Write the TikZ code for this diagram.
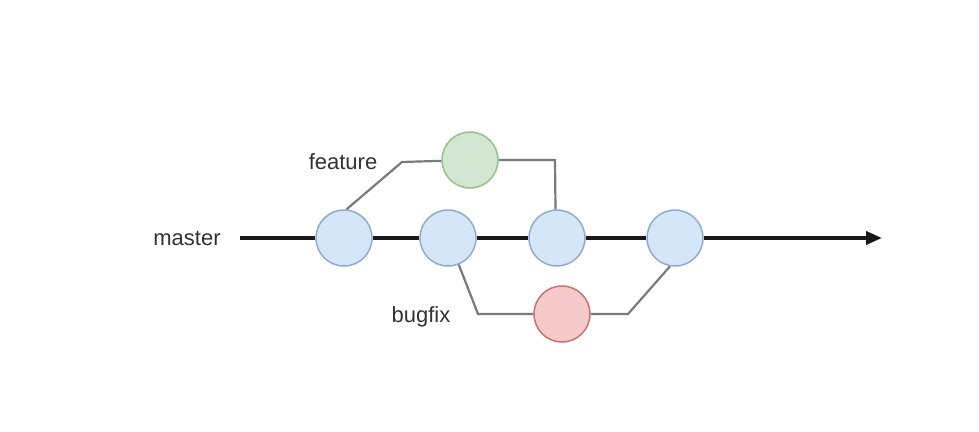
\documentclass[tikz,border=0pt]{standalone}
\usepackage{fontspec}
\setmainfont{Liberation Sans}
\usetikzlibrary{arrows.meta}
\definecolor{bfill}{HTML}{D6E6F9}
\definecolor{bdraw}{HTML}{8EACD0}
\definecolor{gfill}{HTML}{D2E6D1}
\definecolor{gdraw}{HTML}{97C284}
\definecolor{rfill}{HTML}{F6CACA}
\definecolor{rdraw}{HTML}{C77471}
\definecolor{branch}{HTML}{7A7A7A}
\tikzset{
  commit/.style={circle, minimum size=56pt, inner sep=0pt, line width=1.5pt},
  mcommit/.style={commit, fill=bfill, draw=bdraw},
  fcommit/.style={commit, fill=gfill, draw=gdraw},
  bcommit/.style={commit, fill=rfill, draw=rdraw},
  lbl/.style={font=\fontsize{22}{24}\selectfont, text=black!80},
  mline/.style={line width=3.6pt, black!90},
  bline/.style={line width=2.2pt, branch}
}
\begin{document}
\begin{tikzpicture}[x=1pt,y=-1pt]
\useasboundingbox (0,0) rectangle (979,431);
\fill[white] (0,0) rectangle (979,431);
\node[lbl] (master) at (187,238) {master};
\node[lbl] (feature) at (343,162) {feature};
\node[lbl] (bugfix) at (421,317) {bugfix};
\coordinate (start) at (240,238);
\coordinate (end) at (882,238);
\node[mcommit] (c1) at (344,238) {};
\node[mcommit] (c2) at (448,238) {};
\node[mcommit] (c3) at (557,238) {};
\node[mcommit] (c4) at (675,238) {};
\node[fcommit] (f1) at (470,160) {};
\node[bcommit] (b1) at (562,314) {};
\coordinate (fk1) at (402,162);
\coordinate (fk2) at (555,160);
\coordinate (bk1) at (478,314);
\coordinate (bk2) at (628,314);
\draw[mline] (start) -- (c1);
\draw[mline] (c1) -- (c2);
\draw[mline] (c2) -- (c3);
\draw[mline] (c3) -- (c4);
\draw[mline, -{Triangle[length=16pt,width=13pt]}] (c4) -- (end);
\draw[bline] (c1.85) -- (fk1) -- (f1);
\draw[bline] (f1) -- (fk2) -- (c3.93);
\draw[bline] (c2.-68) -- (bk1) -- (b1);
\draw[bline] (b1) -- (bk2) -- (c4.-100);
\end{tikzpicture}
\end{document}
